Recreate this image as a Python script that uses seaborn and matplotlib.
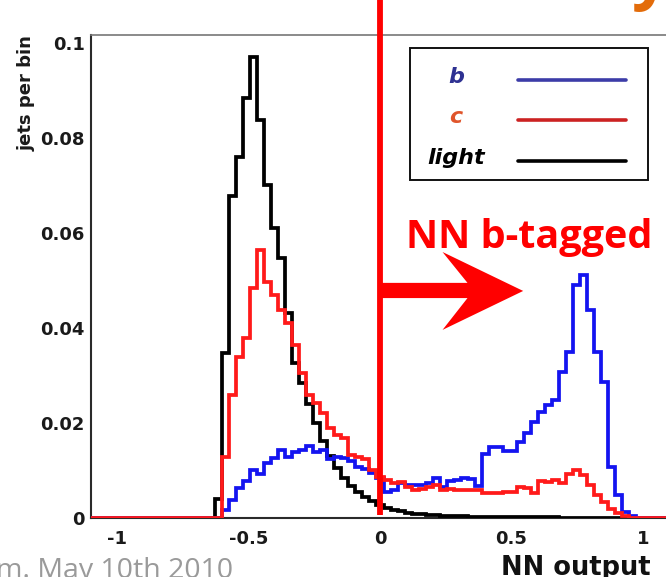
import numpy as np
import matplotlib
matplotlib.use("Agg")
import matplotlib.pyplot as plt
import seaborn as sns
from matplotlib.patches import Polygon, Rectangle
from matplotlib.lines import Line2D
from matplotlib.ticker import FixedLocator, FixedFormatter, MultipleLocator

# ---------------- data ----------------
nn_lo, nn_hi, n_bins = -1.0, 1.0, 75     # histogram binning of the NN output
first_bin = 14                            # index of first listed bin
axis_lo, axis_hi = -1.1, 1.1

# jets per bin, bins 14..74
light_vals = [
    0.0040, 0.0347, 0.0677, 0.0760, 0.0884, 0.0971, 0.0838, 0.0701, 0.0611, 0.0547,
    0.0432, 0.0326, 0.0285, 0.0240, 0.0200, 0.0162, 0.0130, 0.0105, 0.0085, 0.0068,
    0.0055, 0.0044, 0.0035, 0.0028, 0.0022, 0.0017, 0.0014, 0.0011, 0.0009, 0.0008,
    0.0007, 0.0006, 0.0005, 0.0005, 0.0004, 0.0004, 0.0003, 0.0003, 0.0003, 0.0003,
    0.0003, 0.0002, 0.0002, 0.0002, 0.0002, 0.0002, 0.0002, 0.0002, 0.0002, 0.0001,
    0.0001, 0.0001, 0.0001, 0.0001, 0.0001, 0.0001, 0.0001, 0.0, 0.0, 0.0,
    0.0]
c_vals = [
    0.0, 0.0129, 0.0259, 0.0340, 0.0379, 0.0484, 0.0564, 0.0497, 0.0470, 0.0438,
    0.0410, 0.0364, 0.0305, 0.0258, 0.0242, 0.0220, 0.0190, 0.0175, 0.0168, 0.0133,
    0.0129, 0.0125, 0.0101, 0.0087, 0.0080, 0.0074, 0.0076, 0.0066, 0.0059, 0.0062,
    0.0066, 0.0069, 0.0059, 0.0062, 0.0059, 0.0060, 0.0059, 0.0058, 0.0052, 0.0052,
    0.0052, 0.0055, 0.0055, 0.0066, 0.0063, 0.0052, 0.0078, 0.0076, 0.0080, 0.0073,
    0.0092, 0.0100, 0.0090, 0.0069, 0.0048, 0.0034, 0.0020, 0.0010, 0.0005, 0.0,
    0.0]
b_vals = [
    0.0, 0.0017, 0.0038, 0.0063, 0.0078, 0.0101, 0.0092, 0.0116, 0.0126, 0.0143,
    0.0128, 0.0140, 0.0143, 0.0152, 0.0138, 0.0143, 0.0124, 0.0129, 0.0127, 0.0119,
    0.0108, 0.0104, 0.0094, 0.0084, 0.0055, 0.0060, 0.0073, 0.0070, 0.0070, 0.0070,
    0.0073, 0.0084, 0.0066, 0.0077, 0.0080, 0.0085, 0.0082, 0.0068, 0.0135, 0.0150,
    0.0150, 0.0140, 0.0140, 0.0161, 0.0178, 0.0203, 0.0224, 0.0238, 0.0248, 0.0308,
    0.0349, 0.0490, 0.0512, 0.0438, 0.0349, 0.0287, 0.0108, 0.0048, 0.0012, 0.0005,
    0.0]

flavours = ["b", "c", "light"]
x_ticks = [-1, -0.5, 0, 0.5, 1]
x_tick_labels = ["-1", "-0.5", "0", "0.5", "1"]
y_ticks = [0, 0.02, 0.04, 0.06, 0.08, 0.1]
y_tick_labels = ["0", "0.02", "0.04", "0.06", "0.08", "0.1"]
cut_value = 0.0

# ---------------- styling ----------------
sns.set_theme(style="white")
plt.rcParams["font.family"] = ["DejaVu Sans"]

W, H = 666, 577
def fx(px):
    return px / W
def fy(py):
    return 1 - py / H

fig = plt.figure(figsize=(W / 100, H / 100), dpi=100)
fig.patch.set_facecolor("white")
ax = fig.add_axes([fx(91), fy(518), 578 / W, (518 - 35) / H])
ax.set_facecolor("white")

inner = np.linspace(nn_lo, nn_hi, n_bins + 1)
edges = np.concatenate([[axis_lo], inner, [axis_hi]])
centers = 0.5 * (edges[:-1] + edges[1:])

def full_weights(vals):
    w = np.zeros(len(centers))
    w[1 + first_bin: 1 + first_bin + len(vals)] = vals
    return w

hist_colors = {"b": "#1414f0", "c": "#ff1a1a", "light": "#000000"}
series = {"b": b_vals, "c": c_vals, "light": light_vals}
for name in ["light", "b", "c"]:
    sns.histplot(x=list(centers), weights=list(full_weights(series[name])),
                 bins=[float(e) for e in edges],
                 element="step", fill=False, color=hist_colors[name],
                 linewidth=2.7, ax=ax, solid_joinstyle="miter", zorder=3)

ax.set_xlim(axis_lo, axis_hi)
ax.set_ylim(0, 483 / 4750)
ax.set_xlabel("")
ax.set_ylabel("")

ax.xaxis.set_major_locator(FixedLocator(x_ticks))
ax.xaxis.set_major_formatter(FixedFormatter(x_tick_labels))
ax.xaxis.set_minor_locator(MultipleLocator(0.1))
ax.yaxis.set_major_locator(FixedLocator(y_ticks))
ax.yaxis.set_major_formatter(FixedFormatter(y_tick_labels))
ax.yaxis.set_minor_locator(MultipleLocator(0.005))

tick_col = "#2a2a2a"
ax.tick_params(axis="x", which="major", direction="in", length=8, width=1.4,
               color=tick_col, pad=9, labelsize=13, labelcolor="#1a1a1a")
ax.tick_params(axis="x", which="minor", direction="in", length=4.5, width=1.4,
               color=tick_col)
ax.tick_params(axis="y", which="major", direction="in", length=12, width=1.4,
               color=tick_col, pad=4.5, labelsize=13, labelcolor="#1a1a1a")
ax.tick_params(axis="y", which="minor", direction="in", length=6.5, width=1.4,
               color=tick_col)
for lab in ax.get_xticklabels() + ax.get_yticklabels():
    lab.set_fontweight("bold")

for side in ["left", "bottom"]:
    ax.spines[side].set_color("#2a2a2a")
    ax.spines[side].set_linewidth(1.5)
ax.spines["top"].set_color("#777777")
ax.spines["top"].set_linewidth(1.2)
ax.spines["right"].set_color("#777777")

# cut line at NN = 0 and arrow
ax.plot([cut_value, cut_value], [0.0006, 0.1092], color="#ff0000", lw=4.2,
        clip_on=False, zorder=6, solid_capstyle="butt")
arrow = Polygon([(0.0, 0.0495), (0.333, 0.0495), (0.238, 0.0560), (0.545, 0.0478),
                 (0.238, 0.0396), (0.333, 0.0463), (0.0, 0.0463)],
                closed=True, facecolor="#ff0000", edgecolor="none", zorder=6)
ax.add_patch(arrow)
fig.text(fx(406), fy(248), "NN b-tagged", color="#ff0000", fontsize=28.5,
         fontweight="bold", family=["Open Sans", "DejaVu Sans"], va="baseline",
         ha="left")

# legend box (drawn by hand to match the centred labels)
fig.add_artist(Rectangle((fx(410), fy(180)), fx(648) - fx(410), fy(48) - fy(180),
                         transform=fig.transFigure, facecolor="white",
                         edgecolor="#111111", lw=1.4, zorder=7))
leg_text_cols = {"b": "#2e3192", "c": "#e0552b", "light": "#000000"}
leg_line_cols = {"b": "#3c3ca8", "c": "#cc2222", "light": "#000000"}
leg_y = {"b": 80, "c": 120, "light": 161}
for name in flavours:
    fig.add_artist(Line2D([fx(518), fx(626)], [fy(leg_y[name]), fy(leg_y[name])],
                          transform=fig.transFigure, color=leg_line_cols[name],
                          lw=2.6, zorder=8))
    fig.text(fx(456), fy(leg_y[name] - 3), name, color=leg_text_cols[name],
             fontsize=16, fontweight="bold", fontstyle="italic", ha="center",
             va="center", zorder=9)

# axis titles
fig.text(fx(27), fy(35), "jets per bin", rotation=90, ha="center", va="top",
         fontsize=13, fontweight="bold", color="#1a1a1a")
fig.text(fx(501), fy(575), "NN output", ha="left", va="baseline",
         fontsize=18.5, fontweight="bold", color="#111111")

# slide remnants
fig.text(fx(233), fy(578), "m. May 10th 2010", ha="right", va="baseline",
         fontsize=20.5, color="#9a9a9a", family=["Open Sans", "DejaVu Sans"])
fig.text(fx(631), fy(-4), "y", ha="left", va="baseline", fontsize=48,
         fontweight="bold", color="#e36c0a", family=["Open Sans", "DejaVu Sans"])

fig.savefig("out.png", dpi=100, facecolor="white")
